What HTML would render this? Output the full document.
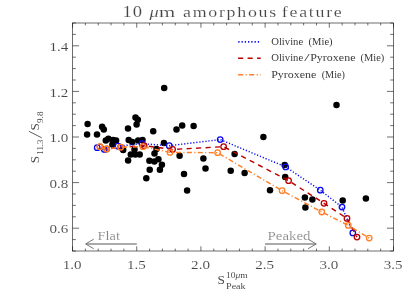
<!DOCTYPE html>
<html><head><meta charset="utf-8"><title>10 um amorphous feature</title>
<style>html,body{margin:0;padding:0;background:#fff;overflow:hidden}body{width:415px;height:297px;font-family:"Liberation Serif",serif}</style>
</head><body>
<svg width="415" height="297" viewBox="0 0 415 297" style="display:block;will-change:transform;font-family:'Liberation Serif',serif">
<rect width="415" height="297" fill="#fff"/>
<g stroke="#151515" stroke-width="0.62" fill="none">
<rect x="72.55" y="23.0" width="320.95" height="228.00"/>
<path d="M72.55 251.0v-4.7M72.55 23.0v4.7M85.39 251.0v-2.4M85.39 23.0v2.4M98.23 251.0v-2.4M98.23 23.0v2.4M111.06 251.0v-2.4M111.06 23.0v2.4M123.90 251.0v-2.4M123.90 23.0v2.4M136.74 251.0v-4.7M136.74 23.0v4.7M149.58 251.0v-2.4M149.58 23.0v2.4M162.42 251.0v-2.4M162.42 23.0v2.4M175.25 251.0v-2.4M175.25 23.0v2.4M188.09 251.0v-2.4M188.09 23.0v2.4M200.93 251.0v-4.7M200.93 23.0v4.7M213.77 251.0v-2.4M213.77 23.0v2.4M226.61 251.0v-2.4M226.61 23.0v2.4M239.44 251.0v-2.4M239.44 23.0v2.4M252.28 251.0v-2.4M252.28 23.0v2.4M265.12 251.0v-4.7M265.12 23.0v4.7M277.96 251.0v-2.4M277.96 23.0v2.4M290.80 251.0v-2.4M290.80 23.0v2.4M303.63 251.0v-2.4M303.63 23.0v2.4M316.47 251.0v-2.4M316.47 23.0v2.4M329.31 251.0v-4.7M329.31 23.0v4.7M342.15 251.0v-2.4M342.15 23.0v2.4M354.99 251.0v-2.4M354.99 23.0v2.4M367.82 251.0v-2.4M367.82 23.0v2.4M380.66 251.0v-2.4M380.66 23.0v2.4M393.50 251.0v-4.7M393.50 23.0v4.7M72.55 251.00h3.3M393.5 251.00h-3.3M72.55 239.60h3.3M393.5 239.60h-3.3M72.55 228.20h6.5M393.5 228.20h-6.5M72.55 216.80h3.3M393.5 216.80h-3.3M72.55 205.40h3.3M393.5 205.40h-3.3M72.55 194.00h3.3M393.5 194.00h-3.3M72.55 182.60h6.5M393.5 182.60h-6.5M72.55 171.20h3.3M393.5 171.20h-3.3M72.55 159.80h3.3M393.5 159.80h-3.3M72.55 148.40h3.3M393.5 148.40h-3.3M72.55 137.00h6.5M393.5 137.00h-6.5M72.55 125.60h3.3M393.5 125.60h-3.3M72.55 114.20h3.3M393.5 114.20h-3.3M72.55 102.80h3.3M393.5 102.80h-3.3M72.55 91.40h6.5M393.5 91.40h-6.5M72.55 80.00h3.3M393.5 80.00h-3.3M72.55 68.60h3.3M393.5 68.60h-3.3M72.55 57.20h3.3M393.5 57.20h-3.3M72.55 45.80h6.5M393.5 45.80h-6.5M72.55 34.40h3.3M393.5 34.40h-3.3M72.55 23.00h3.3M393.5 23.00h-3.3"/>
</g>
<g fill="#000">
<circle cx="87.6" cy="124.1" r="3.25"/>
<circle cx="87.1" cy="134.6" r="3.25"/>
<circle cx="97.0" cy="134.6" r="3.25"/>
<circle cx="102.1" cy="126.7" r="3.25"/>
<circle cx="103.8" cy="129.6" r="3.25"/>
<circle cx="105.8" cy="140.6" r="3.25"/>
<circle cx="108.4" cy="138.7" r="3.25"/>
<circle cx="113.1" cy="140.0" r="3.25"/>
<circle cx="116.1" cy="140.6" r="3.25"/>
<circle cx="112.4" cy="144.6" r="3.25"/>
<circle cx="128.0" cy="128.6" r="3.25"/>
<circle cx="135.5" cy="117.6" r="3.25"/>
<circle cx="137.8" cy="119.7" r="3.25"/>
<circle cx="136.6" cy="124.4" r="3.25"/>
<circle cx="128.7" cy="140.0" r="3.25"/>
<circle cx="132.3" cy="142.1" r="3.25"/>
<circle cx="138.2" cy="140.4" r="3.25"/>
<circle cx="142.5" cy="140.1" r="3.25"/>
<circle cx="123.2" cy="150.1" r="3.25"/>
<circle cx="134.5" cy="149.4" r="3.25"/>
<circle cx="130.8" cy="154.5" r="3.25"/>
<circle cx="135.3" cy="154.5" r="3.25"/>
<circle cx="139.7" cy="154.5" r="3.25"/>
<circle cx="128.1" cy="160.5" r="3.25"/>
<circle cx="153.2" cy="131.2" r="3.25"/>
<circle cx="176.5" cy="129.5" r="3.25"/>
<circle cx="182.2" cy="125.6" r="3.25"/>
<circle cx="193.6" cy="125.9" r="3.25"/>
<circle cx="163.9" cy="143.1" r="3.25"/>
<circle cx="156.5" cy="149.1" r="3.25"/>
<circle cx="154.5" cy="153.4" r="3.25"/>
<circle cx="149.4" cy="160.7" r="3.25"/>
<circle cx="154.4" cy="161.6" r="3.25"/>
<circle cx="158.4" cy="159.2" r="3.25"/>
<circle cx="161.9" cy="164.7" r="3.25"/>
<circle cx="149.7" cy="169.8" r="3.25"/>
<circle cx="159.9" cy="169.8" r="3.25"/>
<circle cx="146.3" cy="178.3" r="3.25"/>
<circle cx="179.6" cy="155.8" r="3.25"/>
<circle cx="184.0" cy="173.9" r="3.25"/>
<circle cx="187.1" cy="190.5" r="3.25"/>
<circle cx="164.2" cy="88.1" r="3.25"/>
<circle cx="336.5" cy="105.0" r="3.25"/>
<circle cx="263.4" cy="137.1" r="3.25"/>
<circle cx="203.4" cy="158.4" r="3.25"/>
<circle cx="205.5" cy="168.5" r="3.25"/>
<circle cx="230.7" cy="170.8" r="3.25"/>
<circle cx="234.6" cy="154.1" r="3.25"/>
<circle cx="244.6" cy="173.1" r="3.25"/>
<circle cx="284.7" cy="165.0" r="3.25"/>
<circle cx="285.2" cy="176.9" r="3.25"/>
<circle cx="270.0" cy="190.3" r="3.25"/>
<circle cx="304.9" cy="197.4" r="3.25"/>
<circle cx="312.4" cy="199.4" r="3.25"/>
<circle cx="305.4" cy="207.5" r="3.25"/>
<circle cx="342.7" cy="200.5" r="3.25"/>
<circle cx="365.9" cy="198.5" r="3.25"/>
</g>
<path d="M97.2 147.7 L104.3 149.4 L118.0 146.2 L142.1 143.7 L169.2 145.7 L220.2 139.6 L285.7 166.9 L320.3 190.2 L342.0 207.1 L352.8 232.9" fill="none" stroke="#0a0aee" stroke-width="1.45" stroke-dasharray="1.2 1.85" stroke-dashoffset="0.6"/>
<circle cx="97.2" cy="147.7" r="2.75" fill="none" stroke="#0a0aee" stroke-width="1.3"/>
<circle cx="104.3" cy="149.4" r="2.75" fill="none" stroke="#0a0aee" stroke-width="1.3"/>
<circle cx="118.0" cy="146.2" r="2.75" fill="none" stroke="#0a0aee" stroke-width="1.3"/>
<circle cx="142.1" cy="143.7" r="2.75" fill="none" stroke="#0a0aee" stroke-width="1.3"/>
<circle cx="169.2" cy="145.7" r="2.75" fill="none" stroke="#0a0aee" stroke-width="1.3"/>
<circle cx="220.2" cy="139.6" r="2.75" fill="none" stroke="#0a0aee" stroke-width="1.3"/>
<circle cx="285.7" cy="166.9" r="2.75" fill="none" stroke="#0a0aee" stroke-width="1.3"/>
<circle cx="320.3" cy="190.2" r="2.75" fill="none" stroke="#0a0aee" stroke-width="1.3"/>
<circle cx="342.0" cy="207.1" r="2.75" fill="none" stroke="#0a0aee" stroke-width="1.3"/>
<circle cx="352.8" cy="232.9" r="2.75" fill="none" stroke="#0a0aee" stroke-width="1.3"/>
<path d="M100.0 146.8 L106.7 149.0 L120.7 147.2 L144.1 145.7 L172.6 149.4 L223.6 146.7 L288.6 180.7 L324.0 203.3 L347.0 218.4 L357.0 237.1" fill="none" stroke="#b80000" stroke-width="1.45" stroke-dasharray="5.1 4.4" stroke-dashoffset="-1.9"/>
<circle cx="100.0" cy="146.8" r="2.75" fill="none" stroke="#b80000" stroke-width="1.3"/>
<circle cx="106.7" cy="149.0" r="2.75" fill="none" stroke="#b80000" stroke-width="1.3"/>
<circle cx="120.7" cy="147.2" r="2.75" fill="none" stroke="#b80000" stroke-width="1.3"/>
<circle cx="144.1" cy="145.7" r="2.75" fill="none" stroke="#b80000" stroke-width="1.3"/>
<circle cx="172.6" cy="149.4" r="2.75" fill="none" stroke="#b80000" stroke-width="1.3"/>
<circle cx="223.6" cy="146.7" r="2.75" fill="none" stroke="#b80000" stroke-width="1.3"/>
<circle cx="288.6" cy="180.7" r="2.75" fill="none" stroke="#b80000" stroke-width="1.3"/>
<circle cx="324.0" cy="203.3" r="2.75" fill="none" stroke="#b80000" stroke-width="1.3"/>
<circle cx="347.0" cy="218.4" r="2.75" fill="none" stroke="#b80000" stroke-width="1.3"/>
<circle cx="357.0" cy="237.1" r="2.75" fill="none" stroke="#b80000" stroke-width="1.3"/>
<path d="M100.0 146.7 L106.6 149.0 L120.7 147.2 L142.9 146.7 L170.0 152.4 L217.6 152.7 L282.1 190.7 L321.8 212.0 L348.3 225.4 L369.2 238.1" fill="none" stroke="#ff7f27" stroke-width="1.45" stroke-dasharray="5 2.4 1.1 2.4" stroke-dashoffset="-0.8"/>
<circle cx="100.0" cy="146.7" r="2.75" fill="none" stroke="#ff7f27" stroke-width="1.3"/>
<circle cx="106.6" cy="149.0" r="2.75" fill="none" stroke="#ff7f27" stroke-width="1.3"/>
<circle cx="120.7" cy="147.2" r="2.75" fill="none" stroke="#ff7f27" stroke-width="1.3"/>
<circle cx="142.9" cy="146.7" r="2.75" fill="none" stroke="#ff7f27" stroke-width="1.3"/>
<circle cx="170.0" cy="152.4" r="2.75" fill="none" stroke="#ff7f27" stroke-width="1.3"/>
<circle cx="217.6" cy="152.7" r="2.75" fill="none" stroke="#ff7f27" stroke-width="1.3"/>
<circle cx="282.1" cy="190.7" r="2.75" fill="none" stroke="#ff7f27" stroke-width="1.3"/>
<circle cx="321.8" cy="212.0" r="2.75" fill="none" stroke="#ff7f27" stroke-width="1.3"/>
<circle cx="348.3" cy="225.4" r="2.75" fill="none" stroke="#ff7f27" stroke-width="1.3"/>
<circle cx="369.2" cy="238.1" r="2.75" fill="none" stroke="#ff7f27" stroke-width="1.3"/>
<path d="M238.3 41.9H259.2" stroke="#0a0aee" stroke-width="1.7" stroke-dasharray="1.25 2.0" fill="none"/>
<path d="M238.1 58.2H260.7" stroke="#b80000" stroke-width="1.55" stroke-dasharray="5.1 4.4" fill="none"/>
<path d="M238.1 74.8H260.7" stroke="#ff7f27" stroke-width="1.6" stroke-dasharray="5.1 2.4 1.1 2.4" fill="none"/>
<g fill="#3a3a3a" font-size="10.6px">
<text x="271.2" y="45" textLength="32.0" lengthAdjust="spacingAndGlyphs">Olivine</text>
<text x="308.6" y="45" textLength="24.0" lengthAdjust="spacingAndGlyphs">(Mie)</text>
<text x="271.2" y="61.2" textLength="32.0" lengthAdjust="spacingAndGlyphs">Olivine</text>
<text x="304.2" y="61.2" textLength="5.4" lengthAdjust="spacingAndGlyphs">/</text>
<text x="310.2" y="61.2" textLength="45.3" lengthAdjust="spacingAndGlyphs">Pyroxene</text>
<text x="360.5" y="61.2" textLength="23.8" lengthAdjust="spacingAndGlyphs">(Mie)</text>
<text x="271.2" y="77.6" textLength="45.1" lengthAdjust="spacingAndGlyphs">Pyroxene</text>
<text x="321.7" y="77.6" textLength="23.3" lengthAdjust="spacingAndGlyphs">(Mie)</text>
</g>
<g fill="#444" stroke="#fff" stroke-width="0.15">
<text transform="translate(122.4 16.8) scale(1.16 1)" font-size="16px" textLength="16.90" lengthAdjust="spacing">10</text>
<text x="149.6" y="16.7" font-size="15.4px" font-style="italic" textLength="9.2" lengthAdjust="spacingAndGlyphs">μ</text>
<text x="159.0" y="16.7" font-size="15.4px" textLength="16.2" lengthAdjust="spacingAndGlyphs">m</text>
<text transform="translate(183.0 16.7) scale(1.16 1)" font-size="15.4px" textLength="80.34" lengthAdjust="spacing">amorphous</text>
<text transform="translate(281.8 16.7) scale(1.16 1)" font-size="15.4px" textLength="51.72" lengthAdjust="spacing">feature</text>
</g>
<g fill="#464646" font-size="13.5px" stroke="#fff" stroke-width="0.1">
<text x="68.3" y="233.40" text-anchor="end" textLength="18.8" lengthAdjust="spacingAndGlyphs">0.6</text>
<text x="68.3" y="187.80" text-anchor="end" textLength="18.8" lengthAdjust="spacingAndGlyphs">0.8</text>
<text x="68.3" y="142.20" text-anchor="end" textLength="18.8" lengthAdjust="spacingAndGlyphs">1.0</text>
<text x="68.3" y="96.60" text-anchor="end" textLength="18.8" lengthAdjust="spacingAndGlyphs">1.2</text>
<text x="68.3" y="51.00" text-anchor="end" textLength="18.8" lengthAdjust="spacingAndGlyphs">1.4</text>
<text x="72.15" y="269.1" text-anchor="middle" textLength="18.8" lengthAdjust="spacingAndGlyphs">1.0</text>
<text x="136.34" y="269.1" text-anchor="middle" textLength="18.8" lengthAdjust="spacingAndGlyphs">1.5</text>
<text x="200.53" y="269.1" text-anchor="middle" textLength="18.8" lengthAdjust="spacingAndGlyphs">2.0</text>
<text x="264.72" y="269.1" text-anchor="middle" textLength="18.8" lengthAdjust="spacingAndGlyphs">2.5</text>
<text x="328.91" y="269.1" text-anchor="middle" textLength="18.8" lengthAdjust="spacingAndGlyphs">3.0</text>
<text x="393.10" y="269.1" text-anchor="middle" textLength="18.8" lengthAdjust="spacingAndGlyphs">3.5</text>
</g>
<g fill="#4c4c4c">
<text x="217.4" y="284" font-size="13.2px" textLength="7.4" lengthAdjust="spacingAndGlyphs">S</text>
<text x="226.0" y="277.8" font-size="8.2px" textLength="21.8" lengthAdjust="spacingAndGlyphs">10<tspan font-style="italic">μ</tspan>m</text>
<text x="226.1" y="289" font-size="8.5px" textLength="19.5" lengthAdjust="spacingAndGlyphs">Peak</text>
</g>
<g fill="#4c4c4c" transform="translate(38.7 162.9) rotate(-90)">
<text x="-0.4" y="0" font-size="13.2px">S</text>
<text x="8.2" y="4.0" font-size="8.3px" textLength="15.2" lengthAdjust="spacingAndGlyphs">11.3</text>
<path d="M25.1 3.0L31.6 -9.8" stroke="#4c4c4c" stroke-width="0.9" fill="none"/>
<text x="32.5" y="0" font-size="13.2px">S</text>
<text x="40.0" y="4.0" font-size="8.3px" textLength="11.3" lengthAdjust="spacingAndGlyphs">9.8</text>
</g>
<g stroke="#8e8e8e" stroke-width="1.45" fill="none">
<path d="M136.8 243.95H86.2M265 243.95H315.7"/>
</g>
<g stroke="#6a6a6a" stroke-width="0.9" fill="none">
<path d="M93.7 239.2L85.6 243.95L93.7 248.7M308 239.2L316.3 243.95L308 248.7"/>
</g>
<g fill="#808080" font-size="11.6px" stroke="#fff" stroke-width="0.15">
<text x="97.6" y="239.7" textLength="22.4" lengthAdjust="spacingAndGlyphs">Flat</text>
<text x="267.6" y="239.8" textLength="42.8" lengthAdjust="spacingAndGlyphs">Peaked</text>
</g>
</svg>
</body></html>
